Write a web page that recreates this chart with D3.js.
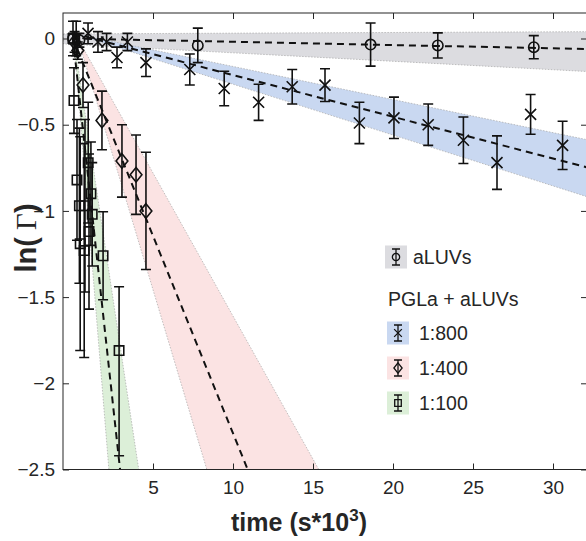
<!DOCTYPE html>
<html><head><meta charset="utf-8">
<script src="https://cdn.jsdelivr.net/npm/d3@7"></script>
<style>
body{margin:0;background:#fff;}
svg{display:block;}
text{font-family:"Liberation Sans", Arial, Helvetica, sans-serif;fill:#262626;}
</style></head><body>
<svg id="chart" width="586" height="541"></svg>
<script>
// ---------- data ----------
const xTicks = [5, 10, 15, 20, 25, 30];
const yTicks = [0, -0.5, -1, -1.5, -2, -2.5];
const seriesNames = ["aLUVs", "1:800", "1:400", "1:100"];
const seriesMarkers = ["circle", "x", "diamond", "square"];
const seriesColors = ["#dcdce0", "#c9d8f1", "#fbe3e3", "#dcefd8"];
const legendTitle = "PGLa + aLUVs";

// rows: [time (10^3 s), ln(Gamma), error down, error up]
const aluvs = [
  [0.0, 0.0, 0.03, 0.03], [0.4, -0.01, 0.04, 0.04], [7.8, -0.04, 0.1, 0.1],
  [18.6, -0.035, 0.125, 0.125], [22.8, -0.04, 0.073, 0.073], [28.8, -0.05, 0.067, 0.067]
];
const r800 = [
  [0.2, 0.0, 0.1, 0.1], [0.94, 0.03, 0.06, 0.06], [1.56, -0.02, 0.06, 0.06], [2.1, -0.02, 0.05, 0.05],
  [2.75, -0.11, 0.06, 0.06], [3.4, -0.02, 0.05, 0.05], [4.56, -0.14, 0.08, 0.08], [7.3, -0.18, 0.09, 0.09],
  [9.45, -0.29, 0.1, 0.1], [11.6, -0.37, 0.105, 0.105], [13.7, -0.28, 0.1, 0.1], [15.75, -0.27, 0.095, 0.095],
  [17.9, -0.49, 0.12, 0.12], [20.06, -0.46, 0.12, 0.12], [22.2, -0.5, 0.12, 0.12], [24.4, -0.59, 0.135, 0.135],
  [26.5, -0.72, 0.155, 0.155], [28.6, -0.44, 0.115, 0.115], [30.6, -0.62, 0.14, 0.14]
];
const r400 = [
  [0.1, -0.02, 0.06, 0.06], [0.3, -0.07, 0.05, 0.05], [0.625, -0.27, 0.13, 0.13], [1.81, -0.475, 0.17, 0.17],
  [3.06, -0.71, 0.21, 0.21], [3.94, -0.79, 0.23, 0.23], [4.56, -1.0, 0.34, 0.34]
];
const r100 = [
  [0.0, 0.0, 0.1, 0.1], [0.06, -0.36, 0.19, 0.19], [0.25, -0.82, 0.35, 0.35], [0.4, -0.97, 0.45, 0.45],
  [0.45, -1.19, 0.62, 0.62], [0.7, -1.23, 0.62, 0.62], [0.75, -0.97, 0.5, 0.5], [0.95, -0.72, 0.35, 0.35],
  [1.0, -1.12, 0.45, 0.45], [1.12, -0.9, 0.3, 0.3], [1.2, -1.02, 0.3, 0.3], [1.88, -1.26, 0.255, 0.255],
  [2.88, -1.81, 0.61, 0.37]
];
// linear fits ln(Gamma) = a + b t, and their confidence bands
const fitA = [0, 0.03, 0, 0];
const fitB = [-0.0019, -0.0242, -0.229, -0.85];
const bandStart = [-0.6, 0, 0.3, 0.05];
const bandUpA = [0.027, 0.03, 0.05, 0.031];
const bandUpB = [0.0004, -0.0192, -0.166, -0.616];
const bandLoA = [-0.034, 0.03, 0.093, 0.057];
const bandLoB = [-0.0049, -0.0295, -0.31, -1.14];
const tEnd = 34;
const allSeries = [aluvs, r800, r400, r100];

// ---------- chart ----------
const svg = d3.select("#chart");
const L = 63, R = 587, T = 13, B = 469.5;
const x = d3.scaleLinear([-0.625, 32.125], [L, R]);
const y = d3.scaleLinear([-2.5, 0.148], [B, T]);
const ink = "#262626";

svg.append("defs").append("clipPath").attr("id", "clip")
  .append("rect").attr("x", L).attr("y", T).attr("width", R - L).attr("height", B - T);
const plot = svg.append("g").attr("clip-path", "url(#clip)");

// bands
allSeries.forEach((s, i) => {
  const t0 = bandStart[i];
  const pts = [
    [t0, bandUpA[i] + bandUpB[i] * t0], [tEnd, bandUpA[i] + bandUpB[i] * tEnd],
    [tEnd, bandLoA[i] + bandLoB[i] * tEnd], [t0, bandLoA[i] + bandLoB[i] * t0]
  ];
  plot.append("path")
    .attr("d", d3.line().x(d => x(d[0])).y(d => y(d[1]))(pts) + "Z")
    .attr("fill", seriesColors[i]).attr("stroke", "#a8a8a8")
    .attr("stroke-width", 0.7).attr("stroke-dasharray", "1.5,1.5");
});
// fit lines
allSeries.forEach((s, i) => {
  const pts = [[0, fitA[i]], [tEnd, fitA[i] + fitB[i] * tEnd]];
  plot.append("path")
    .attr("d", d3.line().x(d => x(d[0])).y(d => y(d[1]))(pts))
    .attr("fill", "none").attr("stroke", "#111").attr("stroke-width", 2)
    .attr("stroke-dasharray", "7,5");
});

function markerPath(type, s) {
  if (type === "x") return `M${-s},${-s}L${s},${s}M${-s},${s}L${s},${-s}`;
  if (type === "diamond") return `M0,${-s * 1.3}L${s * 1.05},0L0,${s * 1.3}L${-s * 1.05},0Z`;
  if (type === "square") return `M${-s},${-s}H${s}V${s}H${-s}Z`;
  return d3.symbol(d3.symbolCircle, Math.PI * s * s)();
}
const markerSize = { circle: 5.2, x: 5.5, diamond: 5.6, square: 4.7 };

// error bars and markers
allSeries.forEach((s, i) => {
  const g = plot.append("g").attr("stroke", "#111").attr("stroke-width", 1.6).attr("fill", "none");
  s.forEach(d => {
    const cx = x(d[0]), y1 = y(d[1] - d[2]), y2 = y(d[1] + d[3]);
    g.append("path").attr("d", `M${cx},${y1}V${y2}M${cx - 5},${y1}H${cx + 5}M${cx - 5},${y2}H${cx + 5}`);
  });
  s.forEach(d => {
    g.append("path").attr("transform", `translate(${x(d[0])},${y(d[1])})`)
      .attr("d", markerPath(seriesMarkers[i], markerSize[seriesMarkers[i]]));
  });
});

// axes
const fs = "19px";
const gx = svg.append("g").attr("transform", `translate(0,${B})`)
  .call(d3.axisBottom(x).tickValues(xTicks).tickSizeInner(-6).tickSizeOuter(0).tickPadding(11));
const gy = svg.append("g").attr("transform", `translate(${L},0)`)
  .call(d3.axisLeft(y).tickValues(yTicks).tickSizeInner(-6).tickSizeOuter(0).tickPadding(8)
    .tickFormat(d => d === 0 ? "0" : "\u2212" + String(Math.abs(d))));
const gt = svg.append("g").attr("transform", `translate(0,${T})`)
  .call(d3.axisTop(x).tickValues(xTicks).tickSizeInner(-6).tickSizeOuter(0).tickFormat(""));
const gr = svg.append("g").attr("transform", `translate(${R},0)`)
  .call(d3.axisRight(y).tickValues(yTicks).tickSizeInner(-6).tickSizeOuter(0).tickFormat(""));
[gx, gy, gt, gr].forEach(g => {
  g.select(".domain").remove();
  g.selectAll("line").attr("stroke", ink);
  g.selectAll("text").attr("fill", ink).style("font-size", fs)
    .style("font-family", '"Liberation Sans", Arial, sans-serif');
});
svg.append("rect").attr("x", L).attr("y", T).attr("width", R - L).attr("height", B - T)
  .attr("fill", "none").attr("stroke", ink).attr("stroke-width", 1);

// axis labels
const xl = svg.append("text").attr("x", 299).attr("y", 531).attr("text-anchor", "middle")
  .style("font-size", "25px").style("font-weight", "bold").attr("fill", "#111");
xl.append("tspan").text("time (s*10");
xl.append("tspan").attr("dy", -10).style("font-size", "17px").text("3");
xl.append("tspan").attr("dy", 10).text(")");

const yl = svg.append("text").attr("transform", "translate(36,238) rotate(-90)")
  .attr("text-anchor", "middle").style("font-size", "29px").style("font-weight", "bold").attr("fill", "#111");
yl.append("tspan").text("ln(");
yl.append("tspan").style("font-family", '"Liberation Serif", "Times New Roman", serif')
  .style("font-weight", "normal").text(" Γ");
yl.append("tspan").text(")");

// legend
const legRows = [
  { label: seriesNames[0], i: 0, y: 257, tx: 413 },
  { label: legendTitle, i: -1, y: 299, tx: 388 },
  { label: seriesNames[1], i: 1, y: 333, tx: 419 },
  { label: seriesNames[2], i: 2, y: 368, tx: 419 },
  { label: seriesNames[3], i: 3, y: 403, tx: 419 }
];
const leg = svg.append("g");
legRows.forEach(r => {
  if (r.i >= 0) {
    const sx = r.i === 0 ? 385 : 387;
    leg.append("rect").attr("x", sx).attr("y", r.y - 11.5).attr("width", 22).attr("height", 23)
      .attr("fill", seriesColors[r.i]);
    const cx = sx + 11;
    const g = leg.append("g").attr("stroke", "#111").attr("stroke-width", 1.3).attr("fill", "none");
    g.append("path").attr("d", `M${cx},${r.y - 8}V${r.y + 8}M${cx - 4},${r.y - 8}H${cx + 4}M${cx - 4},${r.y + 8}H${cx + 4}`);
    g.append("path").attr("transform", `translate(${cx},${r.y})`)
      .attr("d", markerPath(seriesMarkers[r.i], markerSize[seriesMarkers[r.i]] * 0.7));
  }
  leg.append("text").attr("x", r.tx).attr("y", r.y).attr("dy", "0.36em")
    .style("font-size", "19.5px").attr("fill", "#111").text(r.label);
});
</script>
</body></html>
